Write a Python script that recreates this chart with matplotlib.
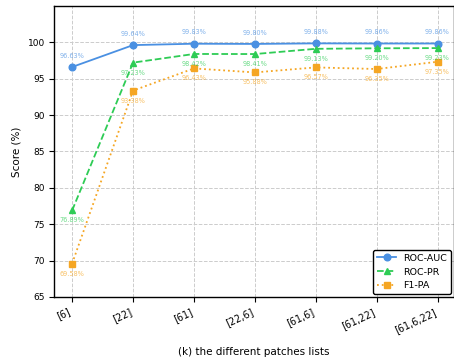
import matplotlib
matplotlib.use("Agg")
import matplotlib.pyplot as plt

# patch lists and scores
patches = ["[6]", "[22]", "[61]", "[22,6]", "[61,6]", "[61,22]", "[61,6,22]"]
roc_auc = [96.63, 99.64, 99.83, 99.80, 99.88, 99.86, 99.86]
roc_pr = [76.89, 97.23, 98.42, 98.41, 99.13, 99.20, 99.23]
f1_pa = [69.58, 93.38, 96.43, 95.88, 96.57, 96.35, 97.35]

c_auc = "#4a90e2"
c_pr = "#2ecc55"
c_pa = "#f5a623"

fig, ax = plt.subplots(figsize=(4.54, 3.62), dpi=100)
x = list(range(len(patches)))

ax.plot(x, roc_auc, color=c_auc, marker="o", linestyle="-", lw=1.3, ms=4.8, label="ROC-AUC")
ax.plot(x, roc_pr, color=c_pr, marker="^", linestyle="--", lw=1.3, ms=4.8, label="ROC-PR")
ax.plot(x, f1_pa, color=c_pa, marker="s", linestyle=":", lw=1.3, ms=4.8, label="F1-PA")

for i in x:
    ax.annotate(f"{roc_auc[i]:.2f}%", (i, roc_auc[i]), xytext=(0, 6), textcoords="offset points",
                ha="center", va="bottom", fontsize=4.7, color=c_auc, alpha=0.7)
    ax.annotate(f"{roc_pr[i]:.2f}%", (i, roc_pr[i]), xytext=(0, -5), textcoords="offset points",
                ha="center", va="top", fontsize=4.7, color=c_pr, alpha=0.7)
    ax.annotate(f"{f1_pa[i]:.2f}%", (i, f1_pa[i]), xytext=(0, -5), textcoords="offset points",
                ha="center", va="top", fontsize=4.7, color=c_pa, alpha=0.7)

ax.set_xticks(x)
ax.set_xticklabels(patches, rotation=25, ha="right", fontsize=7)
ax.tick_params(axis="y", labelsize=6.5)
ax.set_ylim(65, 105)
ax.set_xlim(-0.29, 6.27)
ax.set_yticks(range(65, 101, 5))
ax.grid(True, linestyle="--", color="#cccccc", lw=0.7)
ax.set_xlabel("(k) the different patches lists", fontsize=7.5, labelpad=9)
ax.set_ylabel("Score (%)", fontsize=7.5)
for s in ax.spines.values():
    s.set_linewidth(1.0)
ax.legend(loc="lower right", fontsize=6.8, frameon=True, edgecolor="black", fancybox=True,
          framealpha=1, borderaxespad=0.3)

plt.subplots_adjust(left=0.12, right=1.0, top=0.983, bottom=0.18)
fig.savefig("out.png", dpi=100)
